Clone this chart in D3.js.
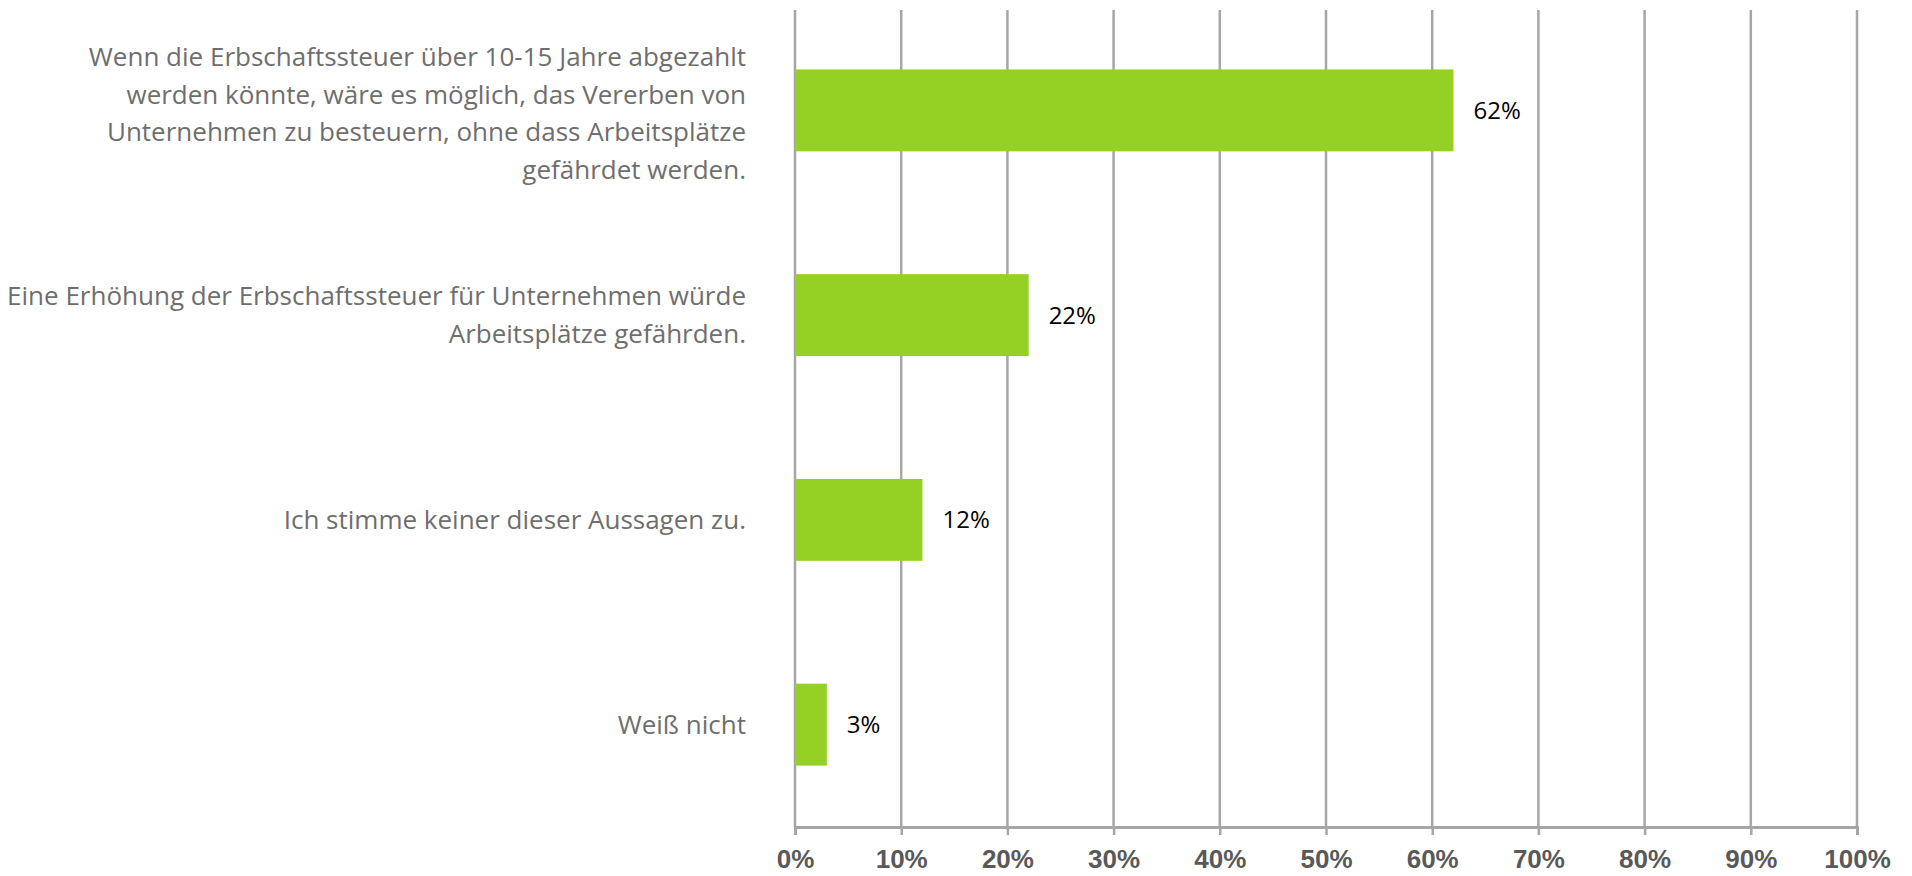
<!DOCTYPE html>
<html><head><meta charset="utf-8">
<script src="https://cdn.jsdelivr.net/npm/d3@7"></script>
<style>body{margin:0;background:#fff}svg{display:block}</style>
</head><body><svg id="c" width="1912" height="876"></svg>
<script>
const categories = [
  "Wenn die Erbschaftssteuer über 10-15 Jahre abgezahlt\nwerden könnte, wäre es möglich, das Vererben von\nUnternehmen zu besteuern, ohne dass Arbeitsplätze\ngefährdet werden.",
  "Eine Erhöhung der Erbschaftssteuer für Unternehmen würde\nArbeitsplätze gefährden.",
  "Ich stimme keiner dieser Aussagen zu.",
  "Weiß nicht"
];
const values = [62, 22, 12, 3];
const ticks = [0, 10, 20, 30, 40, 50, 60, 70, 80, 90, 100];

const svg = d3.select("#c");
const x = d3.scaleLinear().domain([0, 100]).range([795, 1857]);
const y = d3.scaleBand().domain(categories).range([8, 827]).paddingInner(0.6).paddingOuter(0.3);
const gridTop = 10, axisY = 827;

// gridlines
svg.append("g").selectAll("line").data(ticks).join("line")
  .attr("x1", d => x(d)).attr("x2", d => x(d))
  .attr("y1", gridTop).attr("y2", axisY)
  .attr("stroke", "#a6a6a6").attr("stroke-width", 2.5);

// x axis
const ax = svg.append("g").attr("transform", `translate(0,${axisY})`)
  .call(d3.axisBottom(x).tickValues(ticks).tickSize(8).tickPadding(15).tickFormat(d => d + "%"));
ax.select(".domain").attr("stroke", "#a6a6a6").attr("stroke-width", 3);
ax.selectAll(".tick line").attr("stroke", "#a6a6a6").attr("stroke-width", 2.5);
ax.selectAll(".tick text").attr("fill", "#595959")
  .style("font-family", "'Liberation Sans', sans-serif").style("font-weight", "bold").style("font-size", "26px");

// bars
svg.append("g").selectAll("rect").data(values).join("rect")
  .attr("x", x(0)).attr("y", (d, i) => y(categories[i]))
  .attr("width", d => x(d) - x(0)).attr("height", y.bandwidth())
  .attr("fill", "#95d024");

// value labels
svg.append("g").selectAll("text").data(values).join("text")
  .attr("x", d => x(d) + 20).attr("y", (d, i) => y(categories[i]) + y.bandwidth() / 2)
  .attr("dy", "0.35em").attr("fill", "#000")
  .style("font-family", "'Open Sans', sans-serif").style("font-size", "24px")
  .text(d => d + "%");

// category labels
const lh = 37.8;
const lab = svg.append("g").selectAll("text").data(categories).join("text")
  .attr("text-anchor", "end").attr("fill", "#6e6e6e")
  .style("font-family", "'Open Sans', sans-serif").style("font-size", "26px");
lab.each(function(d) {
  const lines = d.split("\n");
  const cy = y(d) + y.bandwidth() / 2 + (lines.length > 2 ? 3 : 0);
  const t = d3.select(this);
  lines.forEach((ln, k) => {
    t.append("tspan").attr("x", 746)
      .attr("y", cy + (k - (lines.length - 1) / 2) * lh)
      .attr("dy", "0.35em").text(ln);
  });
});
</script></body></html>
